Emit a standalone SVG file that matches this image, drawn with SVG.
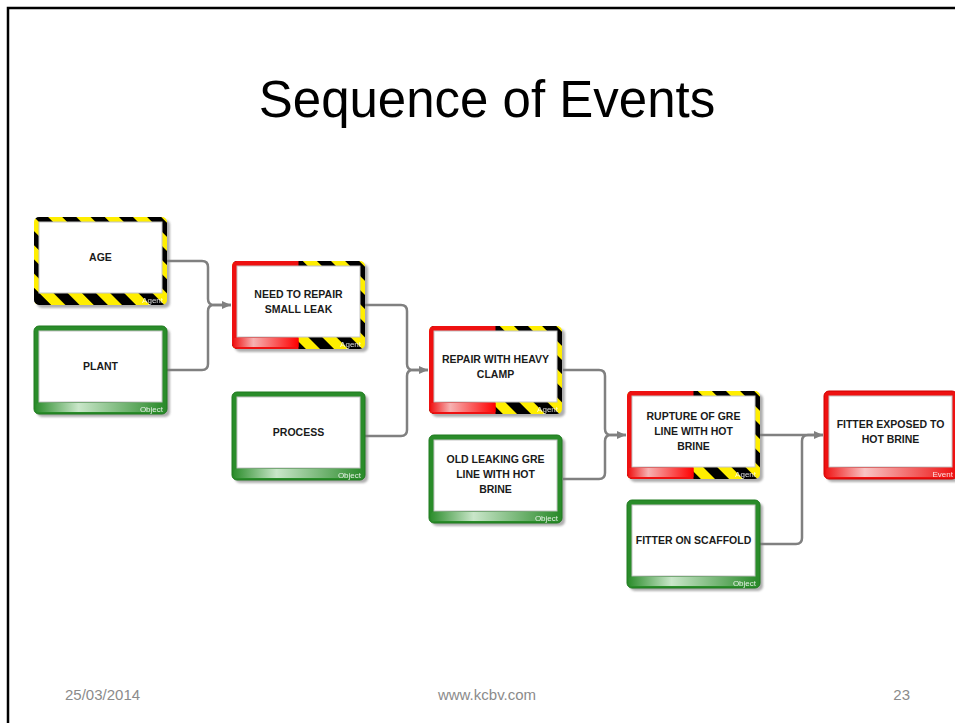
<svg xmlns="http://www.w3.org/2000/svg" width="955" height="723" viewBox="0 0 955 723">
  <style>
    .shd { fill: #7a7a7a; opacity: 0.6; filter: url(#soft); }
    .in { fill: #ffffff; stroke: #c4c4c4; stroke-width: 1; }
    .lbl { font-family: "Liberation Sans", Arial, sans-serif; font-weight: bold; font-size: 10.5px; fill: #1a1a1a; text-anchor: middle; }
    .tag { font-family: "Liberation Sans", Arial, sans-serif; font-size: 8px; fill: #ffffff; opacity: 0.85; text-anchor: end; }
    .conn { fill: none; stroke: #808080; stroke-width: 2.5; }
    .foot { font-family: "Liberation Sans", Arial, sans-serif; font-size: 15px; fill: #8b8b8b; }
  </style>
  <defs>
    <filter id="soft" x="-10%" y="-10%" width="130%" height="130%">
      <feGaussianBlur stdDeviation="1.2"/>
    </filter>
    <pattern id="hazard" width="20" height="20" patternUnits="userSpaceOnUse" patternTransform="rotate(-45)">
      <rect width="20" height="20" fill="#ffee00"/>
      <rect width="10" height="20" fill="#000000"/>
    </pattern>
    <linearGradient id="gGreen" x1="0" y1="0" x2="1" y2="0">
      <stop offset="0" stop-color="#2f8f2f"/>
      <stop offset="0.33" stop-color="#c9e6c9"/>
      <stop offset="1" stop-color="#2a8a2a"/>
    </linearGradient>
    <linearGradient id="gRed" x1="0" y1="0" x2="1" y2="0">
      <stop offset="0" stop-color="#f01818"/>
      <stop offset="0.3" stop-color="#f8c4c4"/>
      <stop offset="1" stop-color="#ee1010"/>
    </linearGradient>
    <linearGradient id="gRedHalf" x1="0" y1="0" x2="1" y2="0">
      <stop offset="0" stop-color="#f01818"/>
      <stop offset="0.3" stop-color="#f6b2b2"/>
      <stop offset="1" stop-color="#ff0000"/>
    </linearGradient>
    <marker id="arr" markerWidth="10" markerHeight="10" refX="9" refY="5" orient="auto" markerUnits="userSpaceOnUse">
      <path d="M0,1 L9,5 L0,9 Z" fill="#808080"/>
    </marker>
  </defs>

  <!-- slide frame -->
  <rect width="955" height="723" fill="#ffffff"/>
  <path d="M8,723 V8 H955" fill="none" stroke="#000000" stroke-width="2.5"/>

  <!-- title -->
  <text x="487" y="117" font-family="Liberation Sans, Arial, sans-serif" font-size="51" text-anchor="middle" fill="#000000">Sequence of Events</text>

  <!-- connectors -->
  <g id="connectors">
    <path class="conn" d="M167,261 H202 Q208,261 208,267 V299 Q208,305 214,305 H231" marker-end="url(#arr)"/>
    <path class="conn" d="M167,370 H202 Q208,370 208,364 V311 Q208,305 214,305 H231"/>
    <path class="conn" d="M365,305 H401 Q407,305 407,311 V364 Q407,370 413,370 H428" marker-end="url(#arr)"/>
    <path class="conn" d="M365,436 H401 Q407,436 407,430 V376 Q407,370 413,370 H428"/>
    <path class="conn" d="M563,370 H599 Q605,370 605,376 V429 Q605,435 611,435 H626" marker-end="url(#arr)"/>
    <path class="conn" d="M563,479 H599 Q605,479 605,473 V441 Q605,435 611,435 H626"/>
    <path class="conn" d="M760,435 H823" marker-end="url(#arr)"/>
    <path class="conn" d="M760,544 H796 Q802,544 802,538 V441 Q802,435 808,435 H823"/>
  </g>

  <!-- AGE : agent -->
  <g id="n-age" transform="translate(34,217)">
    <rect class="shd" x="3" y="3" width="133" height="88" rx="5"/>
    <rect width="133" height="88" rx="5" fill="url(#hazard)"/>
    <rect class="in" x="5" y="5" width="123" height="71"/>
    <text class="lbl" x="66.5" y="44">AGE</text>
    <text class="tag" x="129" y="86">Agent</text>
  </g>

  <!-- PLANT : object -->
  <g id="n-plant" transform="translate(34,326)">
    <rect class="shd" x="3" y="3" width="133" height="88" rx="5"/>
    <rect width="133" height="88" rx="5" fill="#2a8c2a" stroke="#1f7a1f" stroke-width="1"/>
    <rect x="2" y="77" width="129" height="9" rx="2" fill="url(#gGreen)"/>
    <rect class="in" x="5" y="5" width="123" height="71"/>
    <text class="lbl" x="66.5" y="44">PLANT</text>
    <text class="tag" x="129" y="86">Object</text>
  </g>

  <!-- NEED TO REPAIR SMALL LEAK : agent / event -->
  <g id="n-need" transform="translate(232,261)">
    <rect class="shd" x="3" y="3" width="133" height="88" rx="5"/>
    <rect width="133" height="88" rx="5" fill="url(#hazard)"/>
    <path d="M66.5,0 H5 A5,5 0 0 0 0,5 V83 A5,5 0 0 0 5,88 H66.5 Z" fill="#ee1111"/>
    <rect x="2" y="77" width="64.5" height="9" fill="url(#gRedHalf)"/>
    <rect class="in" x="5" y="5" width="123" height="71"/>
    <text class="lbl" x="66.5" y="36.5">NEED TO REPAIR</text>
    <text class="lbl" x="66.5" y="51.5">SMALL LEAK</text>
    <text class="tag" x="129" y="86">Agent</text>
  </g>

  <!-- PROCESS : object -->
  <g id="n-process" transform="translate(232,392)">
    <rect class="shd" x="3" y="3" width="133" height="88" rx="5"/>
    <rect width="133" height="88" rx="5" fill="#2a8c2a" stroke="#1f7a1f" stroke-width="1"/>
    <rect x="2" y="77" width="129" height="9" rx="2" fill="url(#gGreen)"/>
    <rect class="in" x="5" y="5" width="123" height="71"/>
    <text class="lbl" x="66.5" y="44">PROCESS</text>
    <text class="tag" x="129" y="86">Object</text>
  </g>

  <!-- REPAIR WITH HEAVY CLAMP : agent / event -->
  <g id="n-repair" transform="translate(429,326)">
    <rect class="shd" x="3" y="3" width="133" height="88" rx="5"/>
    <rect width="133" height="88" rx="5" fill="url(#hazard)"/>
    <path d="M66.5,0 H5 A5,5 0 0 0 0,5 V83 A5,5 0 0 0 5,88 H66.5 Z" fill="#ee1111"/>
    <rect x="2" y="77" width="64.5" height="9" fill="url(#gRedHalf)"/>
    <rect class="in" x="5" y="5" width="123" height="71"/>
    <text class="lbl" x="66.5" y="36.5">REPAIR WITH HEAVY</text>
    <text class="lbl" x="66.5" y="51.5">CLAMP</text>
    <text class="tag" x="129" y="86">Agent</text>
  </g>

  <!-- OLD LEAKING GRE LINE WITH HOT BRINE : object -->
  <g id="n-old" transform="translate(429,435)">
    <rect class="shd" x="3" y="3" width="133" height="88" rx="5"/>
    <rect width="133" height="88" rx="5" fill="#2a8c2a" stroke="#1f7a1f" stroke-width="1"/>
    <rect x="2" y="77" width="129" height="9" rx="2" fill="url(#gGreen)"/>
    <rect class="in" x="5" y="5" width="123" height="71"/>
    <text class="lbl" x="66.5" y="28">OLD LEAKING GRE</text>
    <text class="lbl" x="66.5" y="43">LINE WITH HOT</text>
    <text class="lbl" x="66.5" y="58">BRINE</text>
    <text class="tag" x="129" y="86">Object</text>
  </g>

  <!-- RUPTURE OF GRE LINE WITH HOT BRINE : agent / event -->
  <g id="n-rupture" transform="translate(627,391)">
    <rect class="shd" x="3" y="3" width="133" height="88" rx="5"/>
    <rect width="133" height="88" rx="5" fill="url(#hazard)"/>
    <path d="M66.5,0 H5 A5,5 0 0 0 0,5 V83 A5,5 0 0 0 5,88 H66.5 Z" fill="#ee1111"/>
    <rect x="2" y="77" width="64.5" height="9" fill="url(#gRedHalf)"/>
    <rect class="in" x="5" y="5" width="123" height="71"/>
    <text class="lbl" x="66.5" y="28.5">RUPTURE OF GRE</text>
    <text class="lbl" x="66.5" y="43.5">LINE WITH HOT</text>
    <text class="lbl" x="66.5" y="58.5">BRINE</text>
    <text class="tag" x="129" y="86">Agent</text>
  </g>

  <!-- FITTER ON SCAFFOLD : object -->
  <g id="n-scaffold" transform="translate(627,500)">
    <rect class="shd" x="3" y="3" width="133" height="88" rx="5"/>
    <rect width="133" height="88" rx="5" fill="#2a8c2a" stroke="#1f7a1f" stroke-width="1"/>
    <rect x="2" y="77" width="129" height="9" rx="2" fill="url(#gGreen)"/>
    <rect class="in" x="5" y="5" width="123" height="71"/>
    <text class="lbl" x="66.5" y="44">FITTER ON SCAFFOLD</text>
    <text class="tag" x="129" y="86">Object</text>
  </g>

  <!-- FITTER EXPOSED TO HOT BRINE : event -->
  <g id="n-exposed" transform="translate(824,391)">
    <rect class="shd" x="3" y="3" width="133" height="88" rx="5"/>
    <rect width="133" height="88" rx="5" fill="#ee1111" stroke="#d00000" stroke-width="1"/>
    <rect x="2" y="77" width="129" height="9" rx="2" fill="url(#gRed)"/>
    <rect class="in" x="5" y="5" width="123" height="71"/>
    <text class="lbl" x="66.5" y="36.5">FITTER EXPOSED TO</text>
    <text class="lbl" x="66.5" y="51.5">HOT BRINE</text>
    <text class="tag" x="129" y="86">Event</text>
  </g>

  <!-- footer -->
  <text class="foot" x="65" y="700">25/03/2014</text>
  <text class="foot" x="487" y="700" text-anchor="middle">www.kcbv.com</text>
  <text class="foot" x="910" y="700" text-anchor="end">23</text>
</svg>
